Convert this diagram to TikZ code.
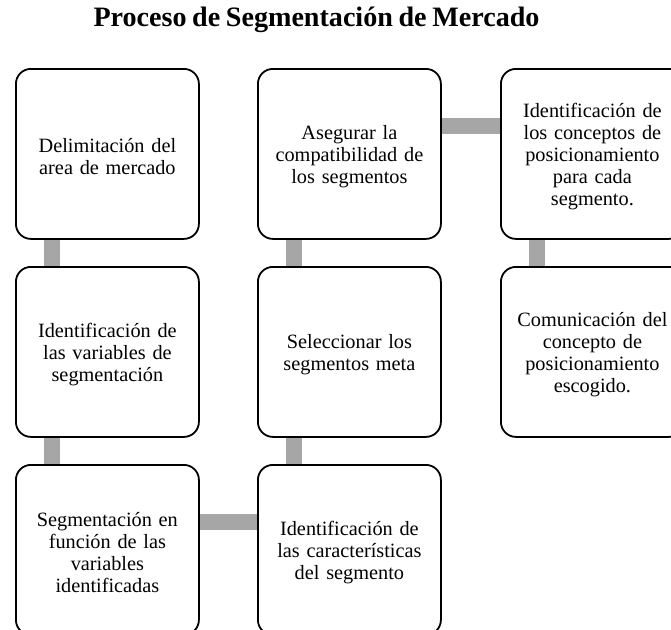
\documentclass[tikz,border=0pt]{standalone}
\usepackage{fontspec}
\setmainfont[WordSpace=0.8]{Liberation Serif}
\usetikzlibrary{backgrounds}
\definecolor{conngray}{HTML}{A6A6A6}
\tikzset{
  stepbox/.style={draw=black, line width=1.8pt, rounded corners=15pt, fill=white,
    minimum width=183pt, minimum height=170pt, align=center, text width=178pt,
    font=\fontsize{20.3}{22}\selectfont, anchor=north west, inner sep=0pt,
    execute at end node={\par\vspace{-6pt}}},
  conn/.style={draw=conngray, line width=16.5pt},
  titlestyle/.style={font=\fontsize{28.1}{30}\selectfont\bfseries, anchor=base, inner sep=0pt}
}
\begin{document}
\begin{tikzpicture}[x=1pt, y=-1pt]
\useasboundingbox (0,0) rectangle (671,629);
\node[titlestyle] (title) at (316.5,27) {Proceso de Segmentación de Mercado};
\node[stepbox] (b1) at (15,68) {Delimitación del\\area de mercado};
\node[stepbox] (b2) at (15,266) {Identificación de\\las variables de\\segmentación};
\node[stepbox] (b3) at (15,464) {Segmentación en\\función de las\\variables\\identificadas};
\node[stepbox] (b4) at (257,464) {Identificación de\\las características\\del segmento};
\node[stepbox] (b5) at (257,266) {Seleccionar los\\segmentos meta};
\node[stepbox] (b6) at (257,68) {Asegurar la\\compatibilidad de\\los segmentos};
\node[stepbox] (b7) at (500,68) {Identificación de\\los conceptos de\\posicionamiento\\para cada\\segmento.};
\node[stepbox] (b8) at (500,266) {Comunicación del\\concepto de\\posicionamiento\\escogido.};
\begin{scope}[on background layer]
\draw[conn] ([xshift=37pt]b1.south west) -- ([xshift=37pt]b2.north west);
\draw[conn] ([xshift=37pt]b2.south west) -- ([xshift=37pt]b3.north west);
\draw[conn] ([yshift=-58pt]b3.north east) -- ([yshift=-58pt]b4.north west);
\draw[conn] ([xshift=37pt]b4.north west) -- ([xshift=37pt]b5.south west);
\draw[conn] ([xshift=37pt]b5.north west) -- ([xshift=37pt]b6.south west);
\draw[conn] ([yshift=-58pt]b6.north east) -- ([yshift=-58pt]b7.north west);
\draw[conn] ([xshift=37pt]b7.south west) -- ([xshift=37pt]b8.north west);
\end{scope}
\end{tikzpicture}
\end{document}
